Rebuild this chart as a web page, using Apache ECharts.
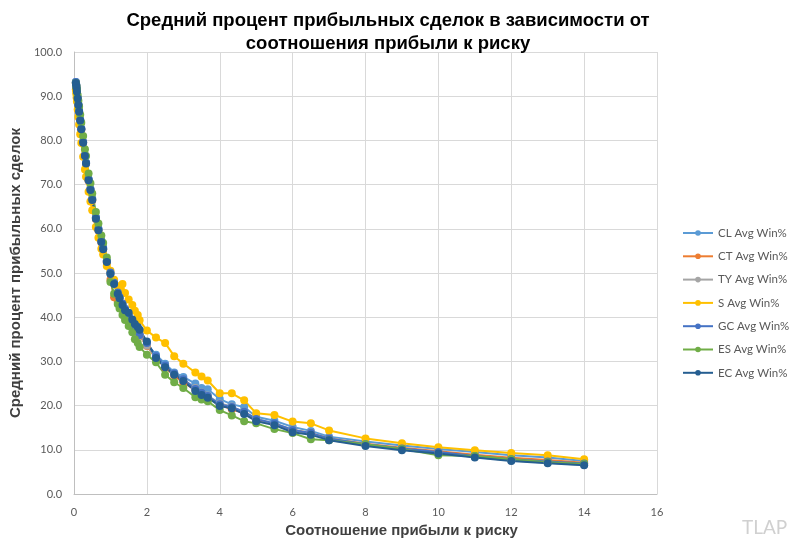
<!DOCTYPE html>
<html>
<head>
<meta charset="utf-8">
<script src="https://cdn.jsdelivr.net/npm/echarts@6/dist/echarts.min.js"></script>
<style>
  html, body { margin: 0; padding: 0; background: #fff; }
  #main { width: 803px; height: 543px; }
</style>
</head>
<body>
<div id="main"></div>
<script>
// соотношение прибыли к риску (ось X)
var ratios = [0.05,0.06,0.07,0.08,0.1,0.12,0.14,0.17,0.2,0.25,0.3,0.33,0.4,0.45,0.5,0.6,0.67,0.75,0.8,0.9,
  1.0,1.1,1.2,1.25,1.33,1.4,1.5,1.6,1.67,1.75,1.8,2.0,2.25,2.5,2.75,3.0,3.33,3.5,3.67,4.0,4.33,4.67,
  5.0,5.5,6.0,6.5,7.0,8,9,10,11,12,13,14];

var clWin = [93.2,92.6,91.9,91.1,89.6,88.1,86.6,84.6,82.6,79.6,76.6,74.9,71.2,69.0,66.7,62.5,59.9,57.3,55.6,52.7,
  50.0,47.7,45.5,44.5,43.0,41.8,40.5,39.0,38.0,37.0,36.2,34.0,31.5,29.5,27.5,26.5,25.0,24.0,23.7,21.5,20.3,19.7,
  17.5,16.6,15.2,14.3,13.0,11.9,11.0,10.2,9.5,8.8,8.3,7.5];
var ctWin = [93.0,92.4,91.7,90.9,89.4,87.9,86.4,84.4,82.4,79.4,76.4,74.7,70.9,68.7,66.4,62.2,59.6,56.9,55.3,52.4,
  48.5,44.5,43.5,43.0,42.0,41.0,39.8,38.6,37.6,36.6,35.8,33.5,30.7,28.6,26.8,25.2,23.6,22.8,22.0,20.2,19.2,18.3,
  16.8,15.8,14.5,13.8,12.6,11.4,10.5,9.7,8.9,8.2,7.7,7.1];
var tyWin = [93.1,92.5,91.8,91.0,89.5,88.0,86.5,84.5,82.5,79.5,76.5,74.8,71.0,68.8,66.5,62.3,59.8,57.1,55.5,52.6,
  49.9,47.6,45.4,44.4,42.9,41.7,40.3,38.8,37.7,36.7,35.9,33.6,31.0,29.0,27.2,25.9,24.0,23.0,22.3,20.5,19.8,18.6,
  17.0,15.9,14.6,13.6,12.5,11.2,10.2,9.3,8.4,7.6,7.1,6.6];
var sWin = [91.5,90.6,89.7,88.8,87.0,85.3,83.6,81.4,79.4,76.3,73.4,71.8,68.4,66.2,64.2,60.4,58.0,55.5,54.2,51.6,
  50.5,48.5,47.0,46.5,47.5,45.5,44.0,42.8,41.5,40.5,39.3,37.0,35.4,34.2,31.2,29.5,27.5,26.6,25.7,22.8,22.8,21.2,
  18.3,17.9,16.4,16.0,14.4,12.6,11.5,10.6,9.9,9.3,8.8,7.9];
var gcWin = [93.2,92.7,92.0,91.2,89.7,88.2,86.7,84.7,82.7,79.7,76.7,75.0,71.3,69.0,66.8,62.6,60.0,57.3,55.7,52.8,
  50.1,47.8,45.6,44.6,43.1,41.9,40.4,38.9,37.9,36.9,36.0,34.2,31.2,29.1,27.3,26.0,23.8,22.9,22.2,20.3,19.7,18.6,
  17.0,16.0,14.5,13.8,12.6,11.3,10.3,9.5,8.6,7.9,7.4,6.9];
var esWin = [93.0,92.6,92.0,91.4,90.3,89.0,87.6,85.8,84.0,81.0,78.0,76.5,72.5,70.3,68.0,63.8,61.2,58.5,56.8,53.5,
  48.0,45.3,43.0,42.0,40.5,39.4,38.0,36.6,35.0,34.2,33.3,31.5,29.8,27.0,25.3,24.0,21.9,21.4,21.0,19.0,17.8,16.5,
  16.0,14.7,13.8,12.4,12.2,11.3,10.2,8.8,8.6,7.9,7.2,6.8];
var ecWin = [93.0,92.5,91.8,91.0,89.5,88.0,86.5,84.5,82.5,79.5,76.5,74.8,71.0,68.8,66.5,62.3,59.7,57.0,55.4,52.5,
  49.8,47.5,45.3,44.3,42.8,41.6,41.0,39.5,38.5,37.8,37.2,34.5,30.8,28.7,27.0,25.6,23.3,22.4,21.8,19.9,19.4,18.1,
  16.5,15.6,14.0,13.4,12.2,10.9,9.9,9.2,8.3,7.5,7.0,6.5];

var seriesNames = ['CL Avg Win%','CT Avg Win%','TY Avg Win%','S Avg Win%','GC Avg Win%','ES Avg Win%','EC Avg Win%'];
var seriesData = [clWin, ctWin, tyWin, sWin, gcWin, esWin, ecWin];
var colors = ['#5B9BD5','#ED7D31','#A5A5A5','#FFC000','#4472C4','#70AD47','#255E91'];

function pairs(ys) {
  var out = [];
  for (var i = 0; i < ratios.length; i++) out.push([ratios[i], ys[i]]);
  return out;
}

var chart = echarts.init(document.getElementById('main'));

var series = [];
for (var k = 0; k < seriesNames.length; k++) {
  series.push({
    name: seriesNames[k],
    type: 'line',
    data: pairs(seriesData[k]),
    symbol: 'circle',
    symbolSize: 8,
    lineStyle: { width: 2, color: colors[k] },
    itemStyle: { color: colors[k] },
    animation: false
  });
}

var option = {
  color: colors,
  title: {
    text: 'Средний процент прибыльных сделок в зависимости от\nсоотношения прибыли к риску',
    left: 383,
    top: 4,
    textAlign: 'center',
    textStyle: {
      fontFamily: 'Liberation Sans',
      fontSize: 18.5,
      fontWeight: 'bold',
      color: '#000',
      lineHeight: 23
    }
  },
  legend: {
    orient: 'vertical',
    left: 677,
    top: 222,
    itemWidth: 30,
    itemHeight: 7,
    itemGap: 11.3,
    data: seriesNames,
    textStyle: { fontFamily: 'Lato', fontSize: 11.5, color: '#595959' }
  },
  grid: { left: 72, right: 146, top: 52, bottom: 46, containLabel: false },
  xAxis: {
    type: 'value',
    min: 0,
    max: 16,
    interval: 2,
    name: 'Соотношение прибыли к риску',
    nameLocation: 'middle',
    nameGap: 24,
    nameTextStyle: { fontFamily: 'Liberation Sans', fontSize: 15, fontWeight: 'bold', color: '#404040', padding: [0, 0, 0, 72] },
    axisLine: { show: true, lineStyle: { color: '#bfbfbf', width: 1 } },
    axisTick: { show: false },
    axisLabel: { fontFamily: 'Lato', fontSize: 11, color: '#595959', margin: 13 },
    splitLine: { show: true, lineStyle: { color: '#d9d9d9', width: 1 } }
  },
  yAxis: {
    type: 'value',
    min: 0,
    max: 100,
    interval: 10,
    name: 'Средний процент прибыльных сделок',
    nameLocation: 'middle',
    nameGap: 38,
    nameTextStyle: { fontFamily: 'Liberation Sans', fontSize: 15, fontWeight: 'bold', color: '#404040' },
    axisLine: { show: true, lineStyle: { color: '#bfbfbf', width: 1 } },
    axisTick: { show: false },
    axisLabel: {
      fontFamily: 'Lato', fontSize: 11, color: '#595959', margin: 12,
      formatter: function (v) { return v.toFixed(1); }
    },
    splitLine: { show: true, lineStyle: { color: '#d9d9d9', width: 1 } }
  },
  graphic: [{
    type: 'text',
    left: 742,
    top: 518,
    style: { text: 'TLAP', fontFamily: 'Lato', fontSize: 19, fill: '#d0d0d0' }
  }],
  series: series
};

chart.setOption(option);
</script>
</body>
</html>
